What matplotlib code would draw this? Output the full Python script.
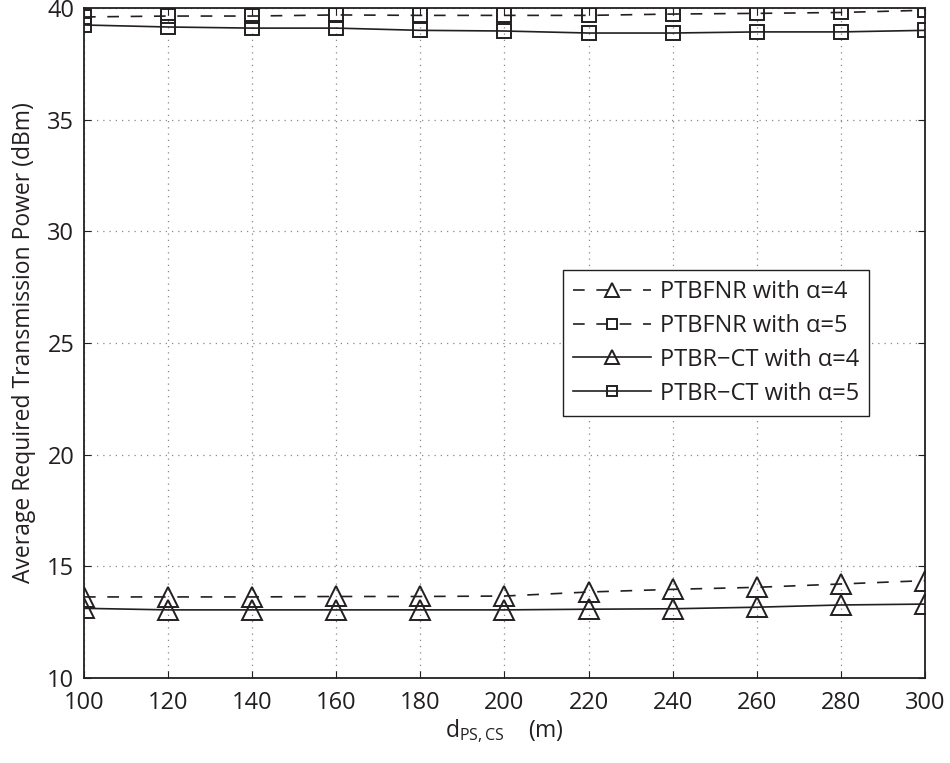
import matplotlib
matplotlib.use("Agg")
import matplotlib.pyplot as plt

plt.rcParams['font.family'] = ['Open Sans', 'DejaVu Sans']
plt.rcParams['mathtext.fontset'] = 'custom'
plt.rcParams['mathtext.rm'] = 'Open Sans'
plt.rcParams['mathtext.it'] = 'Open Sans'

# Data
d_ps_cs = [100, 120, 140, 160, 180, 200, 220, 240, 260, 280, 300]
ptbfnr_a4 = [13.63, 13.63, 13.63, 13.65, 13.65, 13.67, 13.85, 13.97, 14.06, 14.21, 14.36]
ptbfnr_a5 = [39.60, 39.64, 39.64, 39.69, 39.67, 39.67, 39.67, 39.73, 39.76, 39.80, 39.90]
ptbrct_a4 = [13.12, 13.05, 13.05, 13.05, 13.05, 13.05, 13.08, 13.10, 13.17, 13.27, 13.31]
ptbrct_a5 = [39.24, 39.15, 39.10, 39.10, 39.00, 38.97, 38.88, 38.88, 38.93, 38.93, 39.00]

xticks = list(range(100, 301, 20))
yticks = list(range(10, 41, 5))

c = "#231f20"

fig = plt.figure(figsize=(9.5, 7.63), dpi=100)
ax = fig.add_axes([0.0884, 0.1114, 0.8853, 0.8781])

dash = (7, 7)
ax.plot(d_ps_cs, ptbfnr_a4, color=c, lw=1.2, dashes=dash, marker='^', ms=14,
        mfc='none', mec=c, mew=1.4, label='PTBFNR with α=4')
ax.plot(d_ps_cs, ptbfnr_a5, color=c, lw=1.2, dashes=dash, marker='s', ms=9.5,
        mfc='none', mec=c, mew=1.4, label='PTBFNR with α=5')
ax.plot(d_ps_cs, ptbrct_a4, color=c, lw=1.2, marker='^', ms=14,
        mfc='none', mec=c, mew=1.4, label='PTBR−CT with α=4')
ax.plot(d_ps_cs, ptbrct_a5, color=c, lw=1.2, marker='s', ms=9.5,
        mfc='none', mec=c, mew=1.4, label='PTBR−CT with α=5')

ax.set_xlim(100, 300)
ax.set_ylim(10, 40)
ax.set_xticks(xticks)
ax.set_yticks(yticks)
ax.tick_params(direction='in', top=True, right=True, labelsize=17, length=5,
               colors=c)
ax.tick_params(axis='x', pad=9)
ax.tick_params(axis='y', pad=7)
ax.grid(True, linestyle=(0, (1, 4)), color='#888888', lw=0.9)
for s in ax.spines.values():
    s.set_color(c)
    s.set_linewidth(1.3)

ax.set_ylabel('Average Required Transmission Power (dBm)', fontsize=16.5, color=c,
              labelpad=8)
ax.set_xlabel(r'd$_{\mathrm{PS,CS}}$    (m)', fontsize=16.5, color=c, labelpad=2)

leg = ax.legend(loc='upper left', bbox_to_anchor=(0.5696, 0.609), fontsize=17,
                fancybox=False, edgecolor=c, framealpha=1, handlelength=3.3,
                labelspacing=0.42, borderpad=0.42, handletextpad=0.4,
                borderaxespad=0, markerscale=0.72)
leg.get_frame().set_linewidth(1.0)
for t in leg.get_texts():
    t.set_color(c)

fig.savefig("out.png", dpi=100)
